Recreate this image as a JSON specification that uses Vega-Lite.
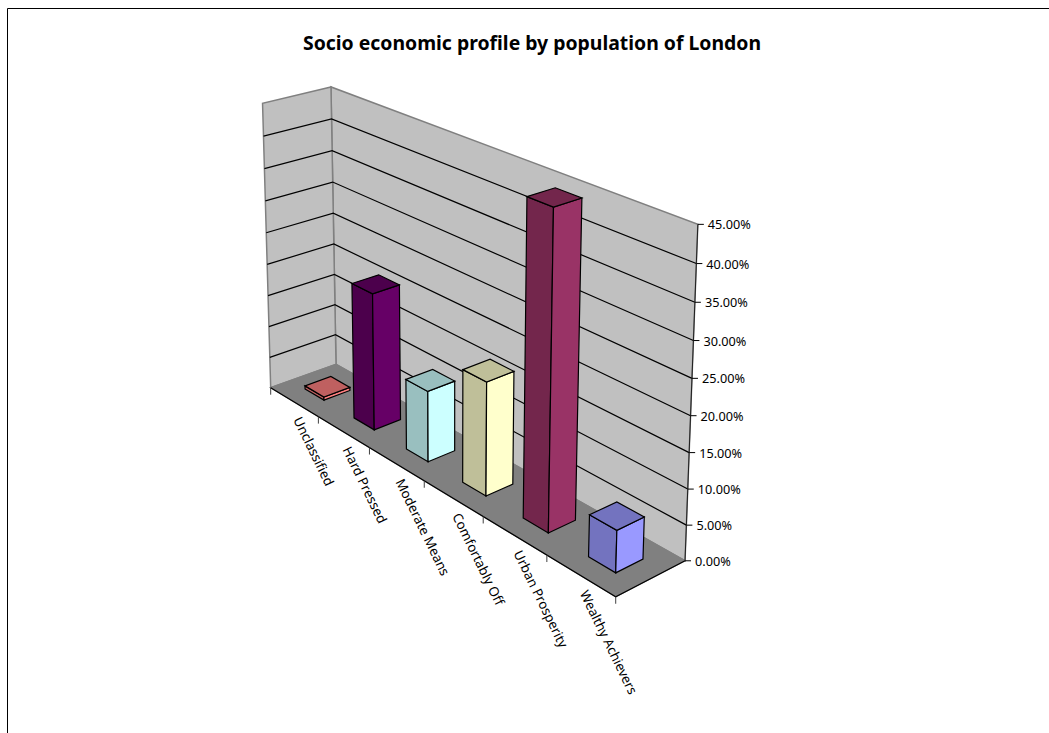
{
  "$schema": "https://vega.github.io/schema/vega-lite/v6.json",
  "width": 1042,
  "height": 725,
  "autosize": "none",
  "padding": {"left": 7, "top": 8, "right": 0, "bottom": 0},
  "background": "white",
  "config": {"view": {"stroke": null}},
  "title": {
    "text": "Socio economic profile by population of London",
    "font": "Noto Sans",
    "fontSize": 19.4,
    "fontWeight": "bold",
    "color": "black",
    "anchor": "middle",
    "dx": 4,
    "dy": 50
  },
  "datasets": {
    "profile": [
      {"category": "Unclassified", "share": 0.5},
      {"category": "Hard Pressed", "share": 21.1},
      {"category": "Moderate Means", "share": 10.7},
      {"category": "Comfortably Off", "share": 16.7},
      {"category": "Urban Prosperity", "share": 44.7},
      {"category": "Wealthy Achievers", "share": 5.9}
    ],
    "surfaces": [{"surface": "back"}, {"surface": "side"}, {"surface": "floor"}],
    "valueTicks": [
      {"tick": 0}, {"tick": 5}, {"tick": 10}, {"tick": 15}, {"tick": 20},
      {"tick": 25}, {"tick": 30}, {"tick": 35}, {"tick": 40}, {"tick": 45}
    ],
    "categoryTicks": [
      {"boundary": 0}, {"boundary": 1}, {"boundary": 2}, {"boundary": 3},
      {"boundary": 4}, {"boundary": 5}, {"boundary": 6}
    ],
    "floorEdge": [{"corner": 0}, {"corner": 1}, {"corner": 2}]
  },
  "encoding": {
    "x": {
      "field": "X",
      "type": "quantitative",
      "scale": {"domain": [7, 1049], "nice": false, "zero": false},
      "axis": {"orient": "top", "title": null, "ticks": false, "labels": false, "grid": false, "domain": true, "domainColor": "black", "domainWidth": 1}
    },
    "y": {
      "field": "Y",
      "type": "quantitative",
      "scale": {"domain": [8, 733], "nice": false, "zero": false, "reverse": true},
      "axis": {"orient": "left", "title": null, "ticks": false, "labels": false, "grid": false, "domain": true, "domainColor": "black", "domainWidth": 1}
    }
  },
  "resolve": {"scale": {"fill": "independent"}},
  "layer": [
    {
      "data": {"name": "surfaces"},
      "transform": [
        {"calculate": "[0,1,2,3]", "as": "corner"},
        {"flatten": ["corner"]},
        {"calculate": "datum.surface==='side' ? 0 : (datum.corner==0||datum.corner==3 ? 0 : 1)", "as": "pu"},
        {"calculate": "datum.surface==='back' ? 1 : datum.surface==='side' ? (datum.corner==0||datum.corner==3 ? 0 : 1) : (datum.corner<2 ? 0 : 1)", "as": "pd"},
        {"calculate": "datum.surface==='floor' ? 0 : (datum.corner<2 ? 0 : 1)", "as": "pv"},
        {"calculate": "1-0.198*datum.pu+0.0279*datum.pd-0.0432*datum.pv", "as": "w"},
        {"calculate": "(270.7+223.1*datum.pu+74.7*datum.pd-19.5*datum.pv)/datum.w", "as": "X"},
        {"calculate": "(387.7+90.9*datum.pu-13.2*datum.pd-288.9*datum.pv)/datum.w", "as": "Y"}
      ],
      "mark": {"type": "line", "interpolate": "linear-closed", "stroke": "#808080", "strokeWidth": 1.5},
      "encoding": {
        "order": {"field": "corner", "type": "quantitative"},
        "detail": {"field": "surface"},
        "fill": {
          "field": "surface",
          "type": "nominal",
          "scale": {"domain": ["back", "side", "floor"], "range": ["#c0c0c0", "#c0c0c0", "#808080"]},
          "legend": null
        }
      }
    },
    {
      "data": {"name": "valueTicks"},
      "transform": [
        {"filter": "datum.tick>0 && datum.tick<45"},
        {"calculate": "[0,1,2]", "as": "corner"},
        {"flatten": ["corner"]},
        {"calculate": "datum.corner<2 ? 0 : 1", "as": "pu"},
        {"calculate": "datum.corner<1 ? 0 : 1", "as": "pd"},
        {"calculate": "datum.tick/45", "as": "pv"},
        {"calculate": "1-0.198*datum.pu+0.0279*datum.pd-0.0432*datum.pv", "as": "w"},
        {"calculate": "(270.7+223.1*datum.pu+74.7*datum.pd-19.5*datum.pv)/datum.w", "as": "X"},
        {"calculate": "(387.7+90.9*datum.pu-13.2*datum.pd-288.9*datum.pv)/datum.w", "as": "Y"}
      ],
      "mark": {"type": "line", "stroke": "black", "strokeWidth": 1.2},
      "encoding": {
        "order": {"field": "corner", "type": "quantitative"},
        "detail": {"field": "tick"}
      }
    },
    {
      "data": {"name": "floorEdge"},
      "transform": [
        {"calculate": "datum.corner<1 ? 0 : 1", "as": "pu"},
        {"calculate": "datum.corner<2 ? 0 : 1", "as": "pd"},
        {"calculate": "0", "as": "pv"},
        {"calculate": "1-0.198*datum.pu+0.0279*datum.pd-0.0432*datum.pv", "as": "w"},
        {"calculate": "(270.7+223.1*datum.pu+74.7*datum.pd-19.5*datum.pv)/datum.w", "as": "X"},
        {"calculate": "(387.7+90.9*datum.pu-13.2*datum.pd-288.9*datum.pv)/datum.w", "as": "Y"}
      ],
      "mark": {"type": "line", "stroke": "black", "strokeWidth": 1.2},
      "encoding": {"order": {"field": "corner", "type": "quantitative"}}
    },
    {
      "data": {"name": "valueTicks"},
      "transform": [
        {"calculate": "1", "as": "pu"},
        {"calculate": "1", "as": "pd"},
        {"calculate": "datum.tick/45", "as": "pv"},
        {"calculate": "1-0.198*datum.pu+0.0279*datum.pd-0.0432*datum.pv", "as": "w"},
        {"calculate": "(270.7+223.1*datum.pu+74.7*datum.pd-19.5*datum.pv)/datum.w", "as": "X"},
        {"calculate": "(387.7+90.9*datum.pu-13.2*datum.pd-288.9*datum.pv)/datum.w", "as": "Y"}
      ],
      "mark": {"type": "line", "stroke": "#202020", "strokeWidth": 1},
      "encoding": {"order": {"field": "tick", "type": "quantitative"}}
    },
    {
      "data": {"name": "valueTicks"},
      "transform": [
        {"calculate": "1", "as": "pu"},
        {"calculate": "1", "as": "pd"},
        {"calculate": "datum.tick/45", "as": "pv"},
        {"calculate": "1-0.198*datum.pu+0.0279*datum.pd-0.0432*datum.pv", "as": "w"},
        {"calculate": "(270.7+223.1*datum.pu+74.7*datum.pd-19.5*datum.pv)/datum.w", "as": "X"},
        {"calculate": "(387.7+90.9*datum.pu-13.2*datum.pd-288.9*datum.pv)/datum.w", "as": "Y"},
        {"calculate": "datum.X+6", "as": "Xend"}
      ],
      "mark": {"type": "rule", "stroke": "black", "strokeWidth": 1},
      "encoding": {"x2": {"field": "Xend"}}
    },
    {
      "data": {"name": "valueTicks"},
      "transform": [
        {"calculate": "1", "as": "pu"},
        {"calculate": "1", "as": "pd"},
        {"calculate": "datum.tick/45", "as": "pv"},
        {"calculate": "1-0.198*datum.pu+0.0279*datum.pd-0.0432*datum.pv", "as": "w"},
        {"calculate": "(270.7+223.1*datum.pu+74.7*datum.pd-19.5*datum.pv)/datum.w", "as": "X"},
        {"calculate": "(387.7+90.9*datum.pu-13.2*datum.pd-288.9*datum.pv)/datum.w", "as": "Y"},
        {"calculate": "format(datum.tick/100, '.2%')", "as": "label"}
      ],
      "mark": {"type": "text", "align": "left", "baseline": "middle", "dx": 10, "dy": 1, "font": "Noto Sans", "fontSize": 12.7, "color": "black"},
      "encoding": {"text": {"field": "label"}}
    },
    {
      "data": {"name": "categoryTicks"},
      "transform": [
        {"calculate": "datum.boundary/6", "as": "pu"},
        {"calculate": "0", "as": "pd"},
        {"calculate": "0", "as": "pv"},
        {"calculate": "1-0.198*datum.pu+0.0279*datum.pd-0.0432*datum.pv", "as": "w"},
        {"calculate": "(270.7+223.1*datum.pu+74.7*datum.pd-19.5*datum.pv)/datum.w", "as": "X"},
        {"calculate": "(387.7+90.9*datum.pu-13.2*datum.pd-288.9*datum.pv)/datum.w", "as": "Y"},
        {"calculate": "datum.Y+7", "as": "Yend"}
      ],
      "mark": {"type": "rule", "stroke": "#404040", "strokeWidth": 1},
      "encoding": {"y2": {"field": "Yend"}}
    },
    {
      "data": {"name": "profile"},
      "transform": [
        {"window": [{"op": "row_number", "as": "n"}]},
        {"calculate": "(datum.n-1+0.303)/6", "as": "u0"},
        {"calculate": "(datum.n-1+0.697)/6", "as": "u1"},
        {"calculate": "datum.share/45", "as": "h"},
        {"calculate": "['left','right','top']", "as": "face"},
        {"flatten": ["face"]},
        {"calculate": "[0,1,2,3]", "as": "corner"},
        {"flatten": ["corner"]},
        {"calculate": "datum.face==='right' ? datum.u1 : (datum.corner==0||datum.corner==3 ? datum.u0 : datum.u1)", "as": "pu"},
        {"calculate": "datum.face==='left' ? 0.303 : datum.face==='right' ? (datum.corner==0||datum.corner==3 ? 0.303 : 0.697) : (datum.corner<2 ? 0.303 : 0.697)", "as": "pd"},
        {"calculate": "datum.face==='top' ? datum.h : (datum.corner<2 ? 0 : datum.h)", "as": "pv"},
        {"calculate": "1-0.198*datum.pu+0.0279*datum.pd-0.0432*datum.pv", "as": "w"},
        {"calculate": "(270.7+223.1*datum.pu+74.7*datum.pd-19.5*datum.pv)/datum.w", "as": "X"},
        {"calculate": "(387.7+90.9*datum.pu-13.2*datum.pd-288.9*datum.pv)/datum.w", "as": "Y"},
        {"calculate": "datum.category+(datum.face==='right' ? ' lit' : ' shaded')", "as": "tone"},
        {"calculate": "datum.category+' '+datum.face", "as": "faceKey"}
      ],
      "mark": {"type": "line", "interpolate": "linear-closed", "stroke": "black", "strokeWidth": 1.2},
      "encoding": {
        "order": {"field": "corner", "type": "quantitative"},
        "detail": {"field": "faceKey"},
        "fill": {
          "field": "tone",
          "type": "nominal",
          "scale": {
            "domain": [
              "Unclassified lit", "Unclassified shaded",
              "Hard Pressed lit", "Hard Pressed shaded",
              "Moderate Means lit", "Moderate Means shaded",
              "Comfortably Off lit", "Comfortably Off shaded",
              "Urban Prosperity lit", "Urban Prosperity shaded",
              "Wealthy Achievers lit", "Wealthy Achievers shaded"
            ],
            "range": [
              "#ff8080", "#bf6060",
              "#660066", "#4c004c",
              "#ccffff", "#99bfbf",
              "#ffffcc", "#bfbf99",
              "#993366", "#73264c",
              "#9999ff", "#7373bf"
            ]
          },
          "legend": null
        }
      }
    },
    {
      "data": {"name": "profile"},
      "transform": [
        {"window": [{"op": "row_number", "as": "n"}]},
        {"calculate": "(datum.n-0.5)/6", "as": "pu"},
        {"calculate": "0", "as": "pd"},
        {"calculate": "0", "as": "pv"},
        {"calculate": "1-0.198*datum.pu+0.0279*datum.pd-0.0432*datum.pv", "as": "w"},
        {"calculate": "(270.7+223.1*datum.pu+74.7*datum.pd-19.5*datum.pv)/datum.w", "as": "X"},
        {"calculate": "(387.7+90.9*datum.pu-13.2*datum.pd-288.9*datum.pv)/datum.w", "as": "Y"}
      ],
      "mark": {"type": "text", "align": "left", "baseline": "middle", "angle": 64, "dx": 15.5, "dy": 4.8, "font": "Noto Sans", "fontSize": 13.3, "color": "black"},
      "encoding": {"text": {"field": "category"}}
    }
  ]
}
